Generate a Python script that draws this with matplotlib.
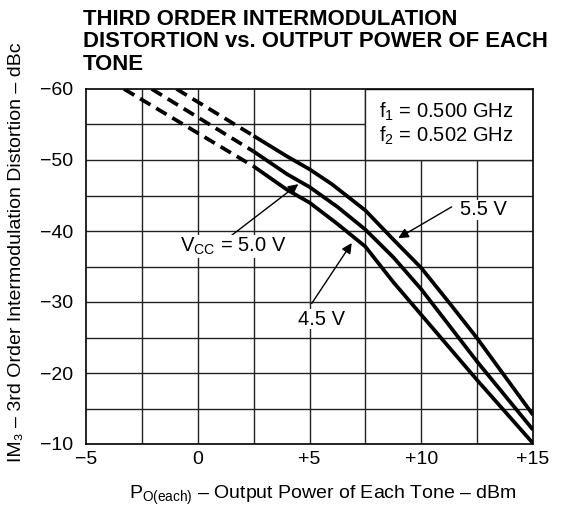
import matplotlib
matplotlib.use("Agg")
import matplotlib.pyplot as plt
from matplotlib.patches import Rectangle

plt.rcParams['font.family'] = ['Liberation Sans', 'DejaVu Sans']
plt.rcParams['mathtext.fontset'] = 'custom'
plt.rcParams['mathtext.rm'] = 'Liberation Sans'
plt.rcParams['mathtext.it'] = 'Liberation Sans:italic'
plt.rcParams['mathtext.bf'] = 'Liberation Sans:bold'

# Measured curves (solid part), output power per tone (dBm) vs IM3 (dBc)
x_55 = [2.5, 4.0, 5.0, 6.0, 7.5, 8.75, 10.0, 11.25, 12.5, 13.75, 15.0]
y_55 = [-53.4, -50.5, -48.7, -46.6, -42.9, -38.8, -34.8, -29.9, -24.9, -19.5, -14.1]

x_50 = [2.5, 4.0, 5.0, 6.25, 7.5, 8.75, 10.0, 12.5, 15.0]
y_50 = [-51.2, -48.0, -46.2, -43.4, -40.2, -36.3, -31.8, -21.6, -12.0]

x_45 = [2.5, 4.0, 5.0, 6.25, 7.5, 8.75, 10.0, 12.5, 15.0]
y_45 = [-49.1, -45.8, -44.0, -41.0, -37.8, -32.8, -28.2, -19.0, -10.1]

# Extrapolated (dashed) part
xd_55 = [-0.95, 2.5]
yd_55 = [-60.0, -53.4]
xd_50 = [-2.06, 2.5]
yd_50 = [-60.0, -51.2]
xd_45 = [-3.3, 2.5]
yd_45 = [-60.0, -49.1]

x_ticks = [-5, 0, 5, 10, 15]
x_ticklabels = ['\u22125', '0', '+5', '+10', '+15']
y_ticks = [-60, -50, -40, -30, -20, -10]
y_ticklabels = ['\u221260', '\u221250', '\u221240', '\u221230', '\u221220', '\u221210']

fig = plt.figure(figsize=(5.65, 5.15), dpi=100)
ax = fig.add_axes([86 / 565, 1 - 444 / 515, 447 / 565, 355 / 515])

ax.set_xlim(-5, 15)
ax.set_ylim(-10, -60)

# grid every 2.5 dBm and 5 dBc
for gx in [-2.5, 0, 2.5, 5, 7.5, 10, 12.5]:
    ax.axvline(gx, color='#222222', lw=1.0, zorder=1)
for gy in [-55, -50, -45, -40, -35, -30, -25, -20, -15]:
    ax.axhline(gy, color='#222222', lw=1.0, zorder=1)

# white box for the frequency note
ax.add_patch(Rectangle((7.5, -60), 7.5, 10, facecolor='white', edgecolor='#222222',
                       lw=1.0, zorder=2))
ax.text(8.1, -56.8, r'f$_{\mathregular{1}}$ = 0.500 GHz', fontsize=14.5, va='center', zorder=3)
ax.text(8.1, -53.4, r'f$_{\mathregular{2}}$ = 0.502 GHz', fontsize=14.5, va='center', zorder=3)

for xs, ys, xd, yd in [(x_55, y_55, xd_55, yd_55), (x_50, y_50, xd_50, yd_50),
                       (x_45, y_45, xd_45, yd_45)]:
    ax.plot(xs, ys, color='black', lw=2.7, zorder=4, solid_capstyle='butt',
            solid_joinstyle='round')
    ax.plot(xd, yd, color='black', lw=2.7, zorder=4, dashes=(3.2, 1.8))

arrow = dict(arrowstyle='-|>', lw=1.0, color='black', mutation_scale=15,
             shrinkA=0, shrinkB=0)
ax.annotate('', xy=(4.5, -46.6), xytext=(1.52, -39.4), arrowprops=arrow, zorder=5)
ax.annotate('', xy=(8.97, -39.0), xytext=(11.36, -43.4), arrowprops=arrow, zorder=5)
ax.annotate('', xy=(6.89, -38.3), xytext=(5.10, -29.8), arrowprops=arrow, zorder=5)

ax.text(1.6, -37.8, r'V$_{\mathregular{CC}}$ = 5.0 V', fontsize=14.5, ha='center', va='center',
        zorder=6, bbox=dict(facecolor='white', edgecolor='none', pad=0.5))
ax.text(12.8, -43.0, '5.5 V', fontsize=14.5, ha='center', va='center', zorder=6,
        bbox=dict(facecolor='white', edgecolor='none', pad=0.5))
ax.text(5.55, -27.6, '4.5 V', fontsize=14.5, ha='center', va='center', zorder=6,
        bbox=dict(facecolor='white', edgecolor='none', pad=0.5))

ax.set_xticks(x_ticks)
ax.set_xticklabels(x_ticklabels, fontsize=14)
ax.set_yticks(y_ticks)
ax.set_yticklabels(y_ticklabels, fontsize=14)
ax.tick_params(axis='x', length=0, pad=5)
ax.tick_params(axis='y', length=0, pad=9)
for s in ax.spines.values():
    s.set_linewidth(1.2)
    s.set_zorder(7)

ax.set_ylabel('IM\u2083 \u2013 3rd Order Intermodulation Distortion \u2013 dBc', fontsize=14)
ax.yaxis.set_label_coords(-61 / 447, (444 - 252) / 355)

fig.text(323 / 565, 1 - 495 / 515,
         r'P$_{\mathregular{O(each)}}$' + ' \u2013 Output Power of Each Tone \u2013 dBm',
         fontsize=14, ha='center', va='center')

fig.text(83 / 565, 1 - 9 / 515,
         'THIRD ORDER INTERMODULATION\nDISTORTION vs. OUTPUT POWER OF EACH\nTONE',
         fontsize=15.9, fontweight='bold', va='top', ha='left', linespacing=1.08)

fig.savefig('out.png', dpi=100)
